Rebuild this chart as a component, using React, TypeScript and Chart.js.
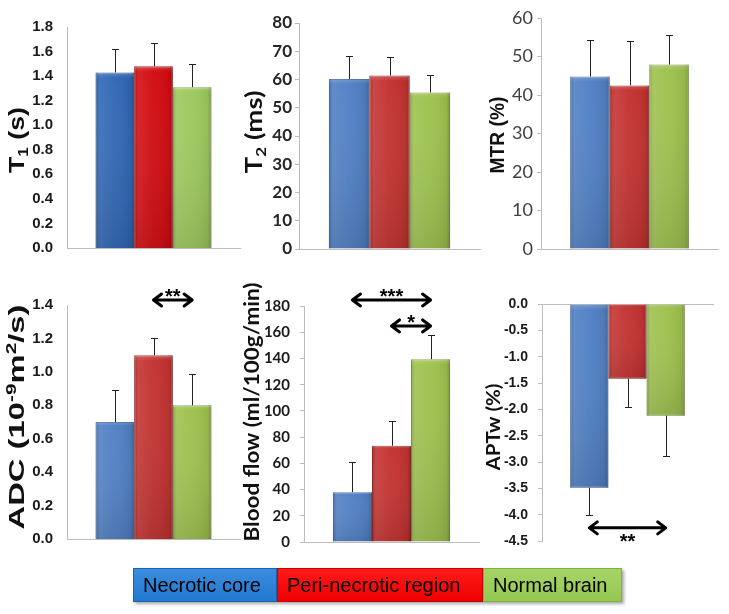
import React, { useEffect, useRef } from 'react';
import { Chart, registerables } from 'chart.js';

Chart.register(...registerables);

// ---------- data ----------
const groups = ['Necrotic core', 'Peri-necrotic region', 'Normal brain'];

const t1Means = [1.43, 1.48, 1.31];
const t1Errors = [0.19, 0.19, 0.19];
const t1Axis = [0, 1.8, 0.2];

const t2Means = [60.2, 61.4, 55.4];
const t2Errors = [8.1, 6.6, 6.2];
const t2Axis = [0, 80, 10];

const mtrMeans = [44.8, 42.5, 47.9];
const mtrErrors = [9.6, 11.6, 7.8];
const mtrAxis = [0, 60, 10];

const adcMeans = [0.7, 1.1, 0.8];
const adcErrors = [0.19, 0.1, 0.19];
const adcAxis = [0, 1.4, 0.2];

const flowMeans = [38, 73.4, 139.4];
const flowErrors = [23, 19, 18.5];
const flowAxis = [0, 180, 20];

const aptMeans = [-3.49, -1.42, -2.12];
const aptErrors = [0.51, 0.53, 0.77];
const aptAxis = [-4.5, 0, 0.5];

type Seg = { t: string; s?: number };
const t1Title: Seg[] = [{ t: 'T' }, { t: '1', s: -1 }, { t: ' (s)' }];
const t2Title: Seg[] = [{ t: 'T' }, { t: '2', s: -1 }, { t: ' (ms)' }];
const mtrTitle: Seg[] = [{ t: 'MTR (%)' }];
const adcTitle: Seg[] = [{ t: 'ADC (10' }, { t: '-9', s: 1 }, { t: 'm' }, { t: '2', s: 1 }, { t: '/s)' }];
const flowTitle: Seg[] = [{ t: 'Blood flow (ml/100g/min)' }];
const aptTitle: Seg[] = [{ t: 'APTw (%)' }];

type Sig = { from: number; to: number; at: number; label: string; below?: boolean };
const adcSig: Sig[] = [{ from: 1, to: 2, at: 1.43, label: '**' }];
const flowSig: Sig[] = [
  { from: 0, to: 2, at: 184.6, label: '***' },
  { from: 1, to: 2, at: 164.8, label: '*' },
];
const aptSig: Sig[] = [{ from: 0, to: 2, at: -4.25, label: '**', below: true }];

// ---------- styles ----------
const ARIAL = '"Liberation Sans", Arial, sans-serif';
const CALIBRI = 'Lato, "Open Sans", sans-serif';

const paletteA = ['#2f66b4', '#d20a0f', '#9cc85c'];
const bordersA = ['#1f4a8a', '#9a0005', '#74a03c'];
const paletteB = ['#4f7fc4', '#c3312f', '#9dc14d'];
const bordersB = ['#37609a', '#8e2220', '#789a33'];

type Panel = {
  means: number[];
  errors: number[];
  axis: number[];
  decimals: number;
  title: Seg[];
  titleFamily: string;
  titleSize: number;
  titleLen: number;
  titleX: number;
  titleY: number;
  tickFont: { family: string; size: number; weight: string };
  tickColor: string;
  tickLen: number;
  tickGap: number;
  box: { x: number; l: number; t: number; r: number; b: number };
  palette: string[];
  borders: string[];
  xTop?: boolean;
  sig: Sig[];
};

const panels: Panel[] = [
  {
    means: t1Means, errors: t1Errors, axis: t1Axis, decimals: 1,
    title: t1Title, titleFamily: ARIAL, titleSize: 22, titleLen: 66, titleX: 16, titleY: 140,
    tickFont: { family: ARIAL, size: 15, weight: 'bold' }, tickColor: '#1a1a1a', tickLen: 0, tickGap: 14,
    box: { x: 0, l: 67, t: 27, r: 240, b: 248 },
    palette: paletteA, borders: bordersA, sig: [],
  },
  {
    means: t2Means, errors: t2Errors, axis: t2Axis, decimals: 0,
    title: t2Title, titleFamily: CALIBRI, titleSize: 22, titleLen: 83, titleX: 254, titleY: 132,
    tickFont: { family: CALIBRI, size: 17, weight: 'bold' }, tickColor: '#262626', tickLen: 4, tickGap: 7,
    box: { x: 240, l: 299, t: 23, r: 480, b: 249 },
    palette: paletteB, borders: bordersB, sig: [],
  },
  {
    means: mtrMeans, errors: mtrErrors, axis: mtrAxis, decimals: 0,
    title: mtrTitle, titleFamily: ARIAL, titleSize: 21, titleLen: 77, titleX: 496, titleY: 135,
    tickFont: { family: CALIBRI, size: 18, weight: 'normal' }, tickColor: '#404040', tickLen: 4, tickGap: 8,
    box: { x: 480, l: 541, t: 18, r: 718, b: 249 },
    palette: paletteB, borders: bordersB, sig: [],
  },
  {
    means: adcMeans, errors: adcErrors, axis: adcAxis, decimals: 1,
    title: adcTitle, titleFamily: ARIAL, titleSize: 22, titleLen: 225, titleX: 16, titleY: 417,
    tickFont: { family: ARIAL, size: 15, weight: 'bold' }, tickColor: '#1a1a1a', tickLen: 0, tickGap: 14,
    box: { x: 0, l: 67, t: 305, r: 240, b: 539 },
    palette: paletteB, borders: bordersB, sig: adcSig,
  },
  {
    means: flowMeans, errors: flowErrors, axis: flowAxis, decimals: 0,
    title: flowTitle, titleFamily: CALIBRI, titleSize: 20, titleLen: 259, titleX: 252, titleY: 412,
    tickFont: { family: CALIBRI, size: 15, weight: 'bold' }, tickColor: '#1a1a1a', tickLen: 4, tickGap: 14,
    box: { x: 240, l: 304, t: 306, r: 479, b: 542 },
    palette: paletteB, borders: bordersB, sig: flowSig,
  },
  {
    means: aptMeans, errors: aptErrors, axis: aptAxis, decimals: 1,
    title: aptTitle, titleFamily: CALIBRI, titleSize: 19, titleLen: 87, titleX: 493, titleY: 427,
    tickFont: { family: ARIAL, size: 14, weight: 'bold' }, tickColor: '#1a1a1a', tickLen: 4, tickGap: 14,
    box: { x: 480, l: 542, t: 304, r: 713, b: 541 },
    palette: paletteB, borders: bordersB, xTop: true, sig: aptSig,
  },
];

const AXIS_COLOR = '#bdbdbd';
const PAD = 32;

function extrasPlugin(p: Panel, canvasTop: number) {
  return {
    id: 'extras',
    afterDatasetsDraw(chart: any) {
      const ctx = chart.ctx as CanvasRenderingContext2D;
      chart.data.datasets.forEach((_: any, i: number) => {
        const el: any = chart.getDatasetMeta(i).data[0];
        if (!el) return;
        const { x, y, base, width } = el.getProps(['x', 'y', 'base', 'width'], true);
        const l = x - width / 2;
        const r = x + width / 2;
        const top = Math.min(y, base);
        const bot = Math.max(y, base);
        ctx.save();
        const g = ctx.createLinearGradient(l, 0, r, 0);
        g.addColorStop(0, 'rgba(0,0,0,0.12)');
        g.addColorStop(0.1, 'rgba(255,255,255,0.10)');
        g.addColorStop(0.5, 'rgba(255,255,255,0.03)');
        g.addColorStop(0.9, 'rgba(0,0,0,0.06)');
        g.addColorStop(1, 'rgba(0,0,0,0.22)');
        ctx.fillStyle = g;
        ctx.fillRect(l, top, r - l, bot - top);
        const v = ctx.createLinearGradient(0, top, 0, bot);
        v.addColorStop(0, 'rgba(255,255,255,0.18)');
        v.addColorStop(0.03, 'rgba(255,255,255,0.0)');
        v.addColorStop(1, 'rgba(0,0,0,0.10)');
        ctx.fillStyle = v;
        ctx.fillRect(l, top, r - l, bot - top);
        ctx.restore();
      });
    },
    afterDraw(chart: any) {
      const ctx = chart.ctx as CanvasRenderingContext2D;
      const ys = chart.scales.y;
      ctx.save();
      // error bars
      ctx.strokeStyle = '#222';
      ctx.lineWidth = 1;
      chart.data.datasets.forEach((_: any, i: number) => {
        const el: any = chart.getDatasetMeta(i).data[0];
        if (!el) return;
        const { x, y } = el.getProps(['x', 'y'], true);
        const m = p.means[i];
        const end = m + Math.sign(m) * p.errors[i];
        const ye = Math.round(ys.getPixelForValue(end)) + 0.5;
        const xc = Math.round(x) + 0.5;
        ctx.beginPath();
        ctx.moveTo(xc, y);
        ctx.lineTo(xc, ye);
        ctx.moveTo(xc - 3.5, ye);
        ctx.lineTo(xc + 3.5, ye);
        ctx.stroke();
      });
      // significance arrows
      p.sig.forEach((s) => {
        const a: any = chart.getDatasetMeta(s.from).data[0];
        const b: any = chart.getDatasetMeta(s.to).data[0];
        const x1 = a.x;
        const x2 = b.x;
        const yy = ys.getPixelForValue(s.at);
        ctx.strokeStyle = '#000';
        ctx.lineWidth = 3;
        ctx.lineCap = 'round';
        ctx.lineJoin = 'round';
        ctx.beginPath();
        ctx.moveTo(x1 + 1, yy);
        ctx.lineTo(x2 - 1, yy);
        ctx.moveTo(x1 + 8, yy - 6);
        ctx.lineTo(x1, yy);
        ctx.lineTo(x1 + 8, yy + 6);
        ctx.moveTo(x2 - 8, yy - 6);
        ctx.lineTo(x2, yy);
        ctx.lineTo(x2 - 8, yy + 6);
        ctx.stroke();
        ctx.fillStyle = '#000';
        ctx.font = `bold 20px ${ARIAL}`;
        ctx.textAlign = 'center';
        ctx.textBaseline = 'alphabetic';
        ctx.fillText(s.label, (x1 + x2) / 2, s.below ? yy + 20 : yy + 3);
      });
      ctx.restore();

      // axis title (rotated, with sub/superscripts)
      ctx.save();
      const size = p.titleSize;
      const fontFor = (sc?: number) =>
        `bold ${sc ? Math.round(size * 0.65) : size}px ${p.titleFamily}`;
      let total = 0;
      const widths = p.title.map((seg) => {
        ctx.font = fontFor(seg.s);
        const w = ctx.measureText(seg.t).width;
        total += w;
        return w;
      });
      ctx.translate(p.titleX - p.box.x, p.titleY - canvasTop);
      ctx.rotate(-Math.PI / 2);
      ctx.scale(p.titleLen / total, 1);
      ctx.fillStyle = '#111';
      ctx.textAlign = 'left';
      ctx.textBaseline = 'alphabetic';
      const base = size * 0.36;
      let x = -total / 2;
      p.title.forEach((seg, i) => {
        ctx.font = fontFor(seg.s);
        const dy = seg.s === -1 ? size * 0.18 : seg.s === 1 ? -size * 0.38 : 0;
        ctx.fillText(seg.t, x, base + dy);
        x += widths[i];
      });
      ctx.restore();
    },
  };
}

function PanelChart({ p }: { p: Panel }) {
  const ref = useRef<HTMLCanvasElement>(null);
  const { box } = p;
  const left = box.x;
  const top = box.t - PAD;
  const width = box.r - box.x + 8;
  const height = box.b - box.t + PAD * 2;

  useEffect(() => {
    if (!ref.current) return;
    const chart = new Chart(ref.current, {
      type: 'bar',
      data: {
        labels: [''],
        datasets: groups.map((g, i) => ({
          label: g,
          data: [p.means[i]],
          backgroundColor: p.palette[i],
          borderColor: p.borders[i],
          borderWidth: 1,
          categoryPercentage: 0.67,
          barPercentage: 1,
        })),
      },
      options: {
        responsive: false,
        animation: false,
        devicePixelRatio: 1,
        layout: { padding: { top: PAD, bottom: PAD, left: 0, right: 8 } },
        plugins: { legend: { display: false }, tooltip: { enabled: false } },
        scales: {
          x: {
            type: 'category',
            position: p.xTop ? 'top' : 'bottom',
            grid: { display: false, drawTicks: false },
            ticks: { display: false },
            border: { display: true, color: AXIS_COLOR, width: 1 },
            afterFit: (s: any) => {
              s.height = 0;
            },
          },
          y: {
            type: 'linear',
            min: p.axis[0],
            max: p.axis[1],
            ticks: {
              stepSize: p.axis[2],
              color: p.tickColor,
              font: p.tickFont as any,
              padding: p.tickGap - p.tickLen,
              callback: (v: any) => Number(v).toFixed(p.decimals),
            },
            grid: {
              display: p.tickLen > 0,
              drawOnChartArea: false,
              drawTicks: p.tickLen > 0,
              tickLength: p.tickLen,
              color: AXIS_COLOR,
            },
            border: { display: true, color: AXIS_COLOR, width: 1 },
            title: { display: false },
            afterFit: (s: any) => {
              s.width = box.l - box.x;
            },
          },
        },
      },
      plugins: [extrasPlugin(p, top)],
    });
    return () => chart.destroy();
  }, []);

  return (
    <canvas
      ref={ref}
      width={width}
      height={height}
      style={{ position: 'absolute', left, top, width, height }}
    />
  );
}

const legendColors = [
  'linear-gradient(#3a8de0, #2278cf)',
  'linear-gradient(#ff1a1a, #f00000)',
  'linear-gradient(#a6d465, #95c853)',
];
const legendBorders = ['#1c64b0', '#c80000', '#7fb040'];
const legendWidths = [144, 206, 139];

export default function App() {
  let lx = 133;
  return (
    <div
      style={{
        position: 'absolute',
        left: 0,
        top: 0,
        width: 729,
        height: 614,
        background: '#fff',
        overflow: 'hidden',
      }}
    >
      {panels.map((p, i) => (
        <PanelChart key={i} p={p} />
      ))}
      {groups.map((g, i) => {
        const x = lx;
        lx += legendWidths[i];
        return (
          <div
            key={g}
            style={{
              position: 'absolute',
              left: x,
              top: 568,
              width: legendWidths[i],
              height: 34,
              boxSizing: 'border-box',
              background: legendColors[i],
              border: `1px solid ${legendBorders[i]}`,
              boxShadow: '2px 2px 3px rgba(0,0,0,0.35)',
              fontFamily: ARIAL,
              fontSize: 20,
              color: '#000',
              lineHeight: '32px',
              paddingLeft: 9,
              whiteSpace: 'nowrap',
            }}
          >
            {g}
          </div>
        );
      })}
    </div>
  );
}
